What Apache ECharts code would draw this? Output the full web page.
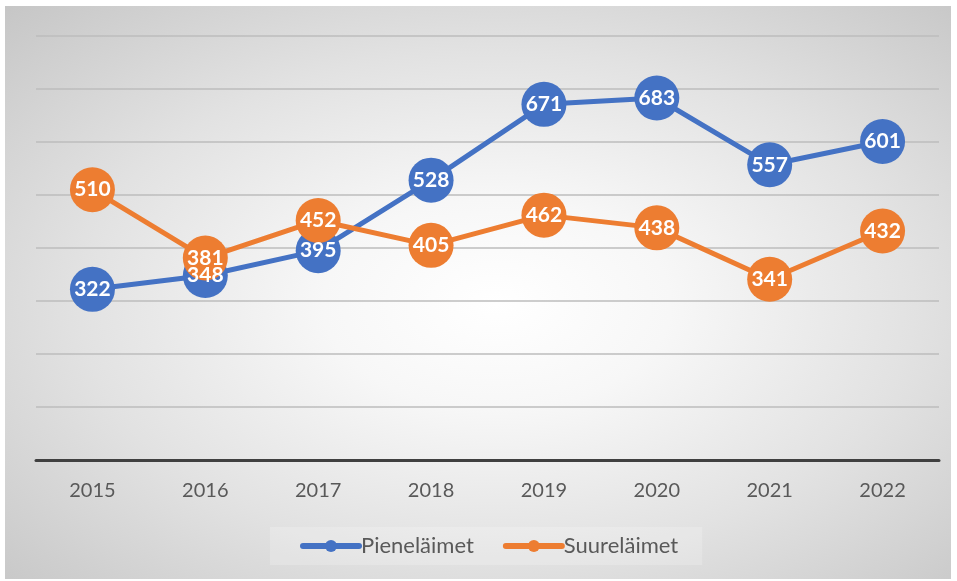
<!DOCTYPE html>
<html>
<head>
<meta charset="utf-8">
<script src="https://cdn.jsdelivr.net/npm/echarts@6/dist/echarts.min.js"></script>
<style>
  html, body { margin: 0; padding: 0; background: #fff; }
  #chart {
    position: absolute; left: 5px; top: 6px; width: 946px; height: 573px;
    background: radial-gradient(ellipse at 52% 52%, #ffffff 0%, #f7f7f7 25%, #e2e2e2 60%, #c6c6c6 100%);
  }
</style>
</head>
<body>
<div id="chart"></div>
<script>
const years = ["2015", "2016", "2017", "2018", "2019", "2020", "2021", "2022"];
const pienelaimet = [322, 348, 395, 528, 671, 683, 557, 601];
const suurelaimet = [510, 381, 452, 405, 462, 438, 341, 432];

const chart = echarts.init(document.getElementById("chart"));

const mkSeries = (name, data, color) => ({
  name,
  type: "line",
  data,
  symbol: "circle",
  symbolSize: 45,
  lineStyle: { width: 5, color },
  itemStyle: { color },
  label: {
    show: true,
    position: "inside",
    color: "#fff",
    fontFamily: "Lato",
    fontWeight: "bold",
    fontSize: 21,
  },
  emphasis: { disabled: true },
  animation: false,
});

chart.setOption({
  backgroundColor: "transparent",
  textStyle: { fontFamily: "Lato" },
  grid: { left: 31, right: 12, top: 30, bottom: 119, containLabel: false },
  xAxis: {
    type: "category",
    data: years,
    boundaryGap: true,
    axisLine: { lineStyle: { color: "#404040", width: 3 } },
    axisTick: { show: false },
    axisLabel: { color: "#595959", fontSize: 20, margin: 21 },
  },
  yAxis: {
    type: "value",
    min: 0,
    max: 800,
    interval: 100,
    axisLine: { show: false },
    axisTick: { show: false },
    axisLabel: { show: false },
    splitLine: { lineStyle: { color: "#bcbcbc", width: 1.5 } },
  },
  legend: {
    bottom: 14,
    left: 265,
    padding: [8, 24, 8, 30],
    backgroundColor: "rgba(255,255,255,0.2)",
    itemWidth: 56,
    itemHeight: 15,
    itemGap: 29,
    lineStyle: { width: 6, cap: "round" },
    textStyle: { color: "#595959", fontSize: 22, fontFamily: "Lato", padding: [0, 0, 0, -3] },
    data: ["Pieneläimet", "Suureläimet"],
  },
  series: [
    mkSeries("Pieneläimet", pienelaimet, "#4472c4"),
    mkSeries("Suureläimet", suurelaimet, "#ed7d31"),
  ],
});
</script>
</body>
</html>
